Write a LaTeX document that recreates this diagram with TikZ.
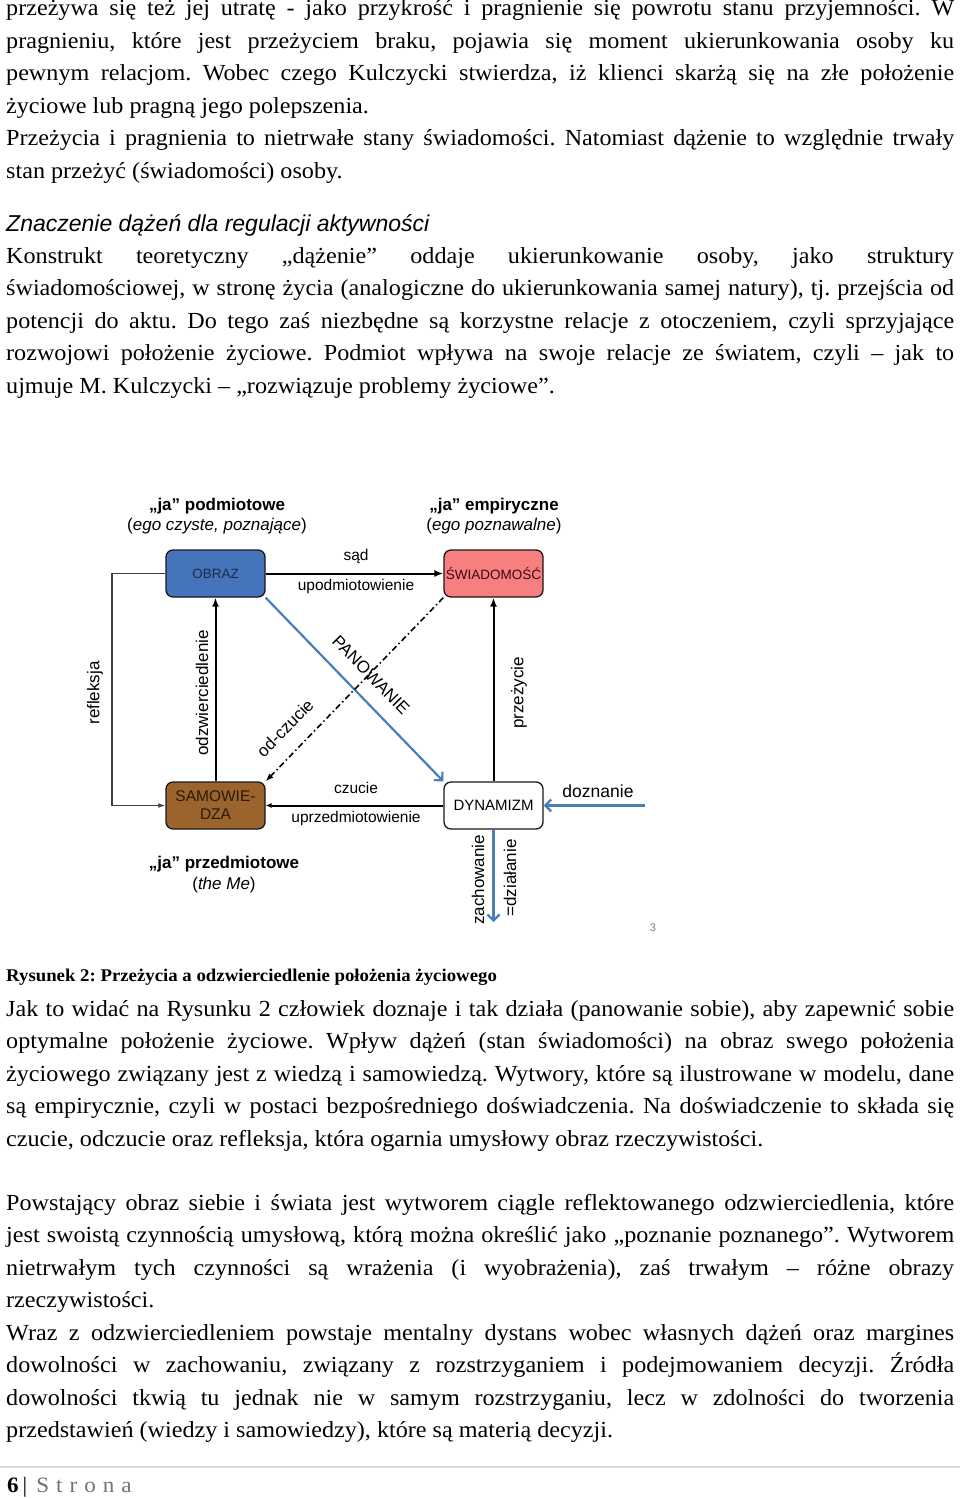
\documentclass[tikz,border=0pt]{standalone}
\usepackage{fontspec}
\setmainfont[FakeStretch=1.05]{Liberation Serif}
\newfontfamily\arial{Liberation Sans}
\usetikzlibrary{arrows.meta}
\definecolor{panblue}{HTML}{4A7EBB}
\definecolor{obrazfill}{HTML}{4674BA}
\definecolor{obraztext}{HTML}{1B2A48}
\definecolor{swiadfill}{HTML}{F77F80}
\definecolor{swiadtext}{HTML}{3C0A10}
\definecolor{samowfill}{HTML}{9A642C}
\definecolor{samowtext}{HTML}{2A1A0A}
\newcommand\bodyfont{\fontsize{23}{32.5}\selectfont}
\newcommand\jl[1]{\hbox to 948pt{#1}}
\begin{document}
\frenchspacing
\begin{tikzpicture}[x=1pt,y=-1pt,
  body/.style={anchor=base west,inner sep=0pt,font=\bodyfont},
  box/.style={draw=black!90,line width=1.3pt,rounded corners=7pt,minimum width=99pt,minimum height=47pt,inner sep=1pt,font=\arial\fontsize{13.5}{16}\selectfont},
  lbl/.style={font=\arial\fontsize{15.5}{17}\selectfont,inner sep=1pt},
  big/.style={font=\arial\fontsize{17}{19}\selectfont,inner sep=1pt},
  ttl/.style={font=\arial\bfseries\fontsize{17}{19}\selectfont,inner sep=1pt},
  oddash/.style={dash pattern=on 6pt off 3pt on 1.5pt off 3pt},
  blk/.style={-{Latex[length=9pt,width=7pt]},line width=2pt},
  blu/.style={draw=panblue,line width=2.2pt,-{Straight Barb[length=6pt,width=12pt]}}]
\useasboundingbox (0,0) rectangle (960,1498);
\fill[white] (0,0) rectangle (960,1498);

\node[body] (a1) at (6,16) {\jl{przeżywa się też jej utratę - jako przykrość i pragnienie się powrotu stanu przyjemności. W}};
\node[body] (a2) at (6,48.5) {\jl{pragnieniu, które jest przeżyciem braku, pojawia się moment ukierunkowania osoby ku}};
\node[body] (a3) at (6,81) {\jl{pewnym relacjom. Wobec czego Kulczycki stwierdza, iż klienci skarżą się na złe położenie}};
\node[body] (a4) at (6,113.5) {życiowe lub pragną jego polepszenia.};
\node[body] (a5) at (6,146) {\jl{Przeżycia i pragnienia to nietrwałe stany świadomości. Natomiast dążenie to względnie trwały}};
\node[body] (a6) at (6,178.5) {stan przeżyć (świadomości) osoby.};

\node[anchor=base west,inner sep=0pt,font=\arial\itshape\fontsize{23}{26}\selectfont] (head) at (6,231) {Znaczenie dążeń dla regulacji aktywności};

\node[body] (b1) at (6,263) {\jl{Konstrukt teoretyczny „dążenie” oddaje ukierunkowanie osoby, jako struktury}};
\node[body] (b2) at (6,295.5) {\jl{świadomościowej, w stronę życia (analogiczne do ukierunkowania samej natury), tj. przejścia od}};
\node[body] (b3) at (6,328) {\jl{potencji do aktu. Do tego zaś niezbędne są korzystne relacje z otoczeniem, czyli sprzyjające}};
\node[body] (b4) at (6,360.5) {\jl{rozwojowi położenie życiowe. Podmiot wpływa na swoje relacje ze światem, czyli – jak to}};
\node[body] (b5) at (6,393) {ujmuje M. Kulczycki – „rozwiązuje problemy życiowe”.};

\node[ttl] (podm) at (217,506) {„ja” podmiotowe};
\node[big] (podmsub) at (217,526) {(\textit{ego czyste, poznające})};
\node[ttl] (empi) at (494,506) {„ja” empiryczne};
\node[big] (empisub) at (494,526) {(\textit{ego poznawalne})};

\node[box,fill=obrazfill,text=obraztext] (obraz) at (215.5,573.5) {OBRAZ};
\node[box,fill=swiadfill,text=swiadtext] (swiad) at (493.5,573.5) {ŚWIADOMOŚĆ};
\node[box,fill=samowfill,text=samowtext,align=center,font=\arial\fontsize{15.5}{18}\selectfont] (samow) at (215.5,805.5) {SAMOWIE-\\DZA};
\node[box,fill=white,font=\arial\fontsize{15}{17}\selectfont] (dynam) at (493.5,805.5) {DYNAMIZM};

\draw[blk] (obraz.east) -- (swiad.west);
\node[lbl] (sad) at (356,556) {sąd};
\node[lbl] (upodm) at (356,586) {upodmiotowienie};

\draw[blk,-{Latex[length=6pt,width=5pt]}] (dynam.west) -- (samow.east);
\node[lbl] (czuc) at (356,788) {czucie};
\node[lbl] (uprzedm) at (356,818) {uprzedmiotowienie};

\draw[blk,draw=black!75,line width=1.8pt,-{Latex[length=7pt,width=5pt]}] (obraz.west) -- ++(-53,0) |- (samow.west);
\node[big,rotate=90] (refl) at (95,693) {refleksja};

\draw[blk] (samow.north) -- (obraz.south);
\node[big,rotate=90] (odzw) at (202,693) {odzwierciedlenie};

\draw[blk] (dynam.north) -- (swiad.south);
\node[big,rotate=90] (przez) at (519,693) {przeżycie};

\draw[blu] (obraz.south east) -- (dynam.north west);
\node[big,rotate=-45.6] (panow) at (371,675) {PANOWANIE};

\draw[oddash,line width=1.6pt,-{Latex[length=8pt,width=6pt]}] (swiad.south west) -- (samow.north east);
\node[big,rotate=45.6] (odcz) at (285,728) {od-czucie};

\coordinate (dzsrc) at (645,805.5);
\draw[blu] (dzsrc) -- (dynam.east);
\node[big,font=\arial\fontsize{17.5}{19}\selectfont] (dozn) at (598,791) {doznanie};

\coordinate (zchend) at (493.5,922);
\draw[blu] (dynam.south) -- (zchend);
\node[big,rotate=90] (zach) at (478,880) {zachowanie};
\node[big,rotate=90] (dzial) at (510,878) {=działanie};

\node[ttl] (przedm) at (224,864) {„ja” przedmiotowe};
\node[big] (przedmsub) at (224,885) {(\textit{the Me})};
\node[font=\arial\fontsize{11}{12}\selectfont,text=gray,inner sep=0pt] (pnum) at (653,928) {3};

\node[anchor=base west,inner sep=0pt,font=\bfseries\fontsize{17.9}{21}\selectfont] (capt) at (6,981) {Rysunek 2: Przeżycia a odzwierciedlenie położenia życiowego};

\node[body] (c1) at (6,1016) {\jl{Jak to widać na Rysunku 2 człowiek doznaje i tak działa (panowanie sobie), aby zapewnić sobie}};
\node[body] (c2) at (6,1048.5) {\jl{optymalne położenie życiowe. Wpływ dążeń (stan świadomości) na obraz swego położenia}};
\node[body] (c3) at (6,1081) {\jl{życiowego związany jest z wiedzą i samowiedzą. Wytwory, które są ilustrowane w modelu, dane}};
\node[body] (c4) at (6,1113.5) {\jl{są empirycznie, czyli w postaci bezpośredniego doświadczenia. Na doświadczenie to składa się}};
\node[body] (c5) at (6,1146) {czucie, odczucie oraz refleksja, która ogarnia umysłowy obraz rzeczywistości.};

\node[body] (d1) at (6,1210) {\jl{Powstający obraz siebie i świata jest wytworem ciągle reflektowanego odzwierciedlenia, które}};
\node[body] (d2) at (6,1242.5) {\jl{jest swoistą czynnością umysłową, którą można określić jako „poznanie poznanego”. Wytworem}};
\node[body] (d3) at (6,1275) {\jl{nietrwałym tych czynności są wrażenia (i wyobrażenia), zaś trwałym – różne obrazy}};
\node[body] (d4) at (6,1307.5) {rzeczywistości.};
\node[body] (d5) at (6,1340) {\jl{Wraz z odzwierciedleniem powstaje mentalny dystans wobec własnych dążeń oraz margines}};
\node[body] (d6) at (6,1372.5) {\jl{dowolności w zachowaniu, związany z rozstrzyganiem i podejmowaniem decyzji. Źródła}};
\node[body] (d7) at (6,1405) {\jl{dowolności tkwią tu jednak nie w samym rozstrzyganiu, lecz w zdolności do tworzenia}};
\node[body] (d8) at (6,1437.5) {przedstawień (wiedzy i samowiedzy), które są materią decyzji.};

\draw[black!15,line width=2pt] (0,1467) -- (960,1467);
\node[anchor=base west,inner sep=0pt,font=\fontsize{22}{24}\selectfont] (foot) at (7,1492) {\textbf{6}\kern4pt|\kern9pt\textcolor{black!55}{S\kern7pt t\kern7pt r\kern7pt o\kern7pt n\kern7pt a}};
\end{tikzpicture}
\end{document}
